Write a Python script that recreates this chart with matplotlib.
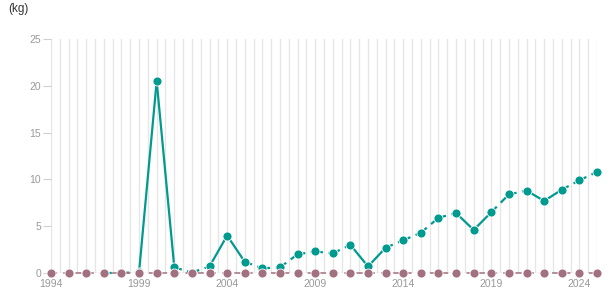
import matplotlib
matplotlib.use("Agg")
import matplotlib.pyplot as plt
import numpy as np

plt.rcParams['font.family'] = ['Liberation Sans', 'DejaVu Sans']

years = list(range(1994, 2026))
# teal series, starts in 1997
teal_years = list(range(1997, 2026))
teal_vals = [0, 0, 0.1, 20.5, 0.6, 0.05, 0.7, 4.0, 1.2, 0.5, 0.6, 2.0, 2.3, 2.1, 3.0,
             0.7, 2.7, 3.5, 4.3, 5.9, 6.4, 4.6, 6.5, 8.4, 8.8, 7.7, 8.9, 9.9, 10.8]
# True = solid segment starting at that point, False = dashed
teal_solid = [False, False, True, True, False, False, True, True, False, False, False, False, False, False, True,
              True, False, False, False, False, True, True, False, False, True, True, False, False]
purple_vals = [0] * len(years)
x_labels = [1994, 1999, 2004, 2009, 2014, 2019, 2024]

teal = '#009a8f'
purple = '#a2717f'

fig = plt.figure(figsize=(6.15, 3.05), dpi=100)
ax = fig.add_axes([51 / 615, 1 - 273 / 305, (597 - 51) / 615, (273 - 39) / 305])
ax.set_xlim(1994, 2025)
ax.set_ylim(0, 25)

# vertical grid every half year
for g in np.arange(1994, 2025.01, 0.5):
    ax.axvline(g, color='#e6e6e6', lw=1, zorder=0)
ax.axhline(0, color='#d8d8d8', lw=1, zorder=0)

# teal segments, solid or dashed
for i in range(len(teal_years) - 1):
    ls = '-' if teal_solid[i] else (0, (3.5, 2.5))
    ax.plot(teal_years[i:i + 2], teal_vals[i:i + 2], color=teal, lw=1.6,
            linestyle=ls, clip_on=False, zorder=2, solid_capstyle='butt')
ax.plot(teal_years, teal_vals, 'o', color=teal, ms=6.5, mec='white', mew=0.6,
        clip_on=False, zorder=3)

ax.plot(years, purple_vals, color=purple, lw=1.1, linestyle=(0, (4, 4)),
        clip_on=False, zorder=4)
ax.plot(years, purple_vals, 'o', color=purple, ms=6.5, mec='white', mew=0.6,
        clip_on=False, zorder=5)

for s in ax.spines.values():
    s.set_visible(False)

ax.set_yticks([0, 5, 10, 15, 20, 25])
ax.tick_params(axis='y', length=6, width=0.8, color='#d0d0d0', labelcolor='#999999',
               labelsize=7.5, pad=1)
ax.set_xticks(x_labels)
ax.tick_params(axis='x', length=0, labelcolor='#999999', labelsize=7.5, pad=4)

fig.text(8 / 615, 1 - 9 / 305, '(kg)', fontsize=8.5, color='#333333', va='center', ha='left')

fig.savefig('out.png', dpi=100)
